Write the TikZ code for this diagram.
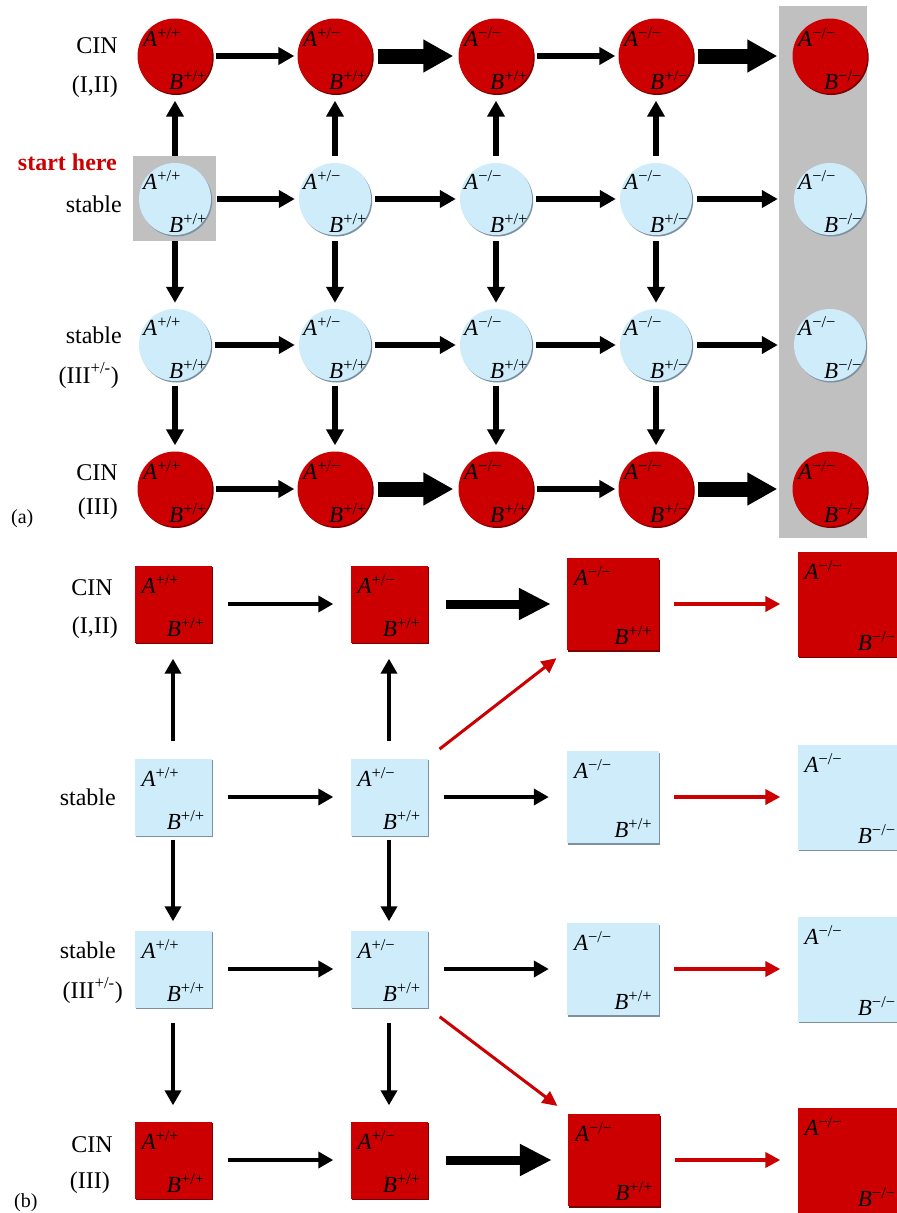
\documentclass[tikz,border=0pt]{standalone}
\usepackage{fontspec}
\setmainfont{Liberation Serif}
\usetikzlibrary{arrows.meta,calc,shadows}

\definecolor{cinred}{RGB}{204,0,0}
\definecolor{cinshade}{RGB}{120,0,0}
\definecolor{stableblue}{RGB}{206,236,250}
\definecolor{stableshade}{RGB}{125,145,160}
\definecolor{panelgray}{RGB}{192,192,192}

% genotype: italic gene name with an upright allele superscript
\newcommand\gty[2]{{\itshape #1}\raisebox{8pt}{\fontsize{16.5}{16.5}\selectfont #2}}

% circular state for panel (a): name, x, y, style, A alleles, B alleles
\newcommand\cstate[6]{%
  \node[#4] (#1) at (#2,#3) {};
  \node[geno] (#1-A) at ($(#1.center)+(-32,-10)$) {\gty{A}{#5}};
  \node[geno] (#1-B) at ($(#1.center)+(-6,33)$) {\gty{B}{#6}};
}
% square state for panel (b): name, x, y, size, style, A alleles, B alleles
\newcommand\sstate[7]{%
  \node[#5, minimum size=#4pt] (#1) at (#2,#3) {};
  \node[geno] (#1-A) at ($(#1.north west)+(7,28)$) {\gty{A}{#6}};
  \node[geno] (#1-B) at ($(#1.south east)+(-45,-6)$) {\gty{B}{#7}};
}

\begin{document}
\begin{tikzpicture}[x=1pt,y=-1pt,
  font=\fontsize{24}{28}\selectfont,
  redcirc/.style={circle, fill=cinred, minimum size=75pt, inner sep=0pt,
    general shadow={fill=cinshade, shadow xshift=1.2pt, shadow yshift=-1.5pt}},
  bluecirc/.style={circle, fill=stableblue, minimum size=72pt, inner sep=0pt,
    general shadow={fill=stableshade, shadow xshift=1.2pt, shadow yshift=-1.5pt}},
  redsq/.style={rectangle, fill=cinred, inner sep=0pt,
    general shadow={fill=cinshade, shadow xshift=1.2pt, shadow yshift=-1.5pt}},
  bluesq/.style={rectangle, fill=stableblue, inner sep=0pt,
    general shadow={fill=stableshade, shadow xshift=1.2pt, shadow yshift=-1.5pt}},
  geno/.style={inner sep=0pt, anchor=base west, font=\fontsize{23}{26}\selectfont},
  rowlabel/.style={inner sep=0pt, anchor=base east},
  panelbox/.style={rectangle, fill=panelgray, inner sep=0pt},
  thina/.style={line width=6pt, -{Triangle[length=16pt,width=17pt]}},
  thicka/.style={line width=15pt, -{Triangle[length=30pt,width=31pt]}},
  thinb/.style={line width=4pt, -{Triangle[length=15pt,width=16pt]}},
  thickb/.style={line width=9pt, -{Triangle[length=32pt,width=30pt]}},
  redb/.style={line width=4pt, cinred, -{Triangle[length=15pt,width=15pt]}},
  reddiag/.style={line width=3pt, cinred, -{Triangle[length=15pt,width=14pt]}},
]
\useasboundingbox (0,0) rectangle (897,1213);
\fill[white] (0,0) rectangle (897,1213);

% ---------------- panel (a) ----------------
\node[panelbox, minimum width=83pt, minimum height=85pt] (startbox) at (174.5,198.5) {};
\node[panelbox, minimum width=88pt, minimum height=532pt] (sinkcol) at (823,272) {};

\cstate{a11}{175}{56}{redcirc}{+/+}{+/+}
\cstate{a12}{335}{56}{redcirc}{+/−}{+/+}
\cstate{a13}{496}{56}{redcirc}{−/−}{+/+}
\cstate{a14}{656}{56}{redcirc}{−/−}{+/−}
\cstate{a15}{830}{56}{redcirc}{−/−}{−/−}

\cstate{a21}{175}{199}{bluecirc}{+/+}{+/+}
\cstate{a22}{335}{199}{bluecirc}{+/−}{+/+}
\cstate{a23}{496}{199}{bluecirc}{−/−}{+/+}
\cstate{a24}{656}{199}{bluecirc}{−/−}{+/−}
\cstate{a25}{830}{199}{bluecirc}{−/−}{−/−}

\cstate{a31}{175}{345}{bluecirc}{+/+}{+/+}
\cstate{a32}{335}{345}{bluecirc}{+/−}{+/+}
\cstate{a33}{496}{345}{bluecirc}{−/−}{+/+}
\cstate{a34}{656}{345}{bluecirc}{−/−}{+/−}
\cstate{a35}{830}{345}{bluecirc}{−/−}{−/−}

\cstate{a41}{175}{489}{redcirc}{+/+}{+/+}
\cstate{a42}{335}{489}{redcirc}{+/−}{+/+}
\cstate{a43}{496}{489}{redcirc}{−/−}{+/+}
\cstate{a44}{656}{489}{redcirc}{−/−}{+/−}
\cstate{a45}{830}{489}{redcirc}{−/−}{−/−}

\node[rowlabel] (la1) at (118,53) {CIN};
\node[rowlabel] (la1b) at (118,92) {(I,II)};
\node[rowlabel, text=cinred, font=\fontsize{24}{28}\selectfont\bfseries] (lstart) at (117,170) {start here};
\node[rowlabel] (la2) at (122,212) {stable};
\node[rowlabel] (la3) at (122,343) {stable};
\node[rowlabel] (la3b) at (119,383) {(III\textsuperscript{+/-})};
\node[rowlabel] (la4) at (118,480) {CIN};
\node[rowlabel] (la4b) at (118,514) {(III)};
\node[inner sep=0pt, anchor=base west, font=\fontsize{20}{24}\selectfont] (tagA) at (11,523) {(a)};

% horizontal transitions, panel (a)
\draw[thina,  shorten <=3pt, shorten >=3pt]  (a11) -- (a12);
\draw[thicka, shorten <=5pt, shorten >=5pt]  (a12) -- (a13);
\draw[thina,  shorten <=3pt, shorten >=3pt]  (a13) -- (a14);
\draw[thicka, shorten <=4pt, shorten >=15pt] (a14) -- (a15);

\draw[thina, shorten <=6pt, shorten >=4pt]  (a21) -- (a22);
\draw[thina, shorten <=4pt, shorten >=4pt]  (a22) -- (a23);
\draw[thina, shorten <=4pt, shorten >=4pt]  (a23) -- (a24);
\draw[thina, shorten <=5pt, shorten >=16pt] (a24) -- (a25);

\draw[thina, shorten <=4pt, shorten >=4pt]  (a31) -- (a32);
\draw[thina, shorten <=4pt, shorten >=4pt]  (a32) -- (a33);
\draw[thina, shorten <=4pt, shorten >=4pt]  (a33) -- (a34);
\draw[thina, shorten <=5pt, shorten >=16pt] (a34) -- (a35);

\draw[thina,  shorten <=3pt, shorten >=3pt]  (a41) -- (a42);
\draw[thicka, shorten <=5pt, shorten >=5pt]  (a42) -- (a43);
\draw[thina,  shorten <=3pt, shorten >=3pt]  (a43) -- (a44);
\draw[thicka, shorten <=4pt, shorten >=15pt] (a44) -- (a45);

% vertical transitions, panel (a)
\foreach \c in {1,2,3,4}{
  \draw[thina, shorten <=7pt, shorten >=7pt] (a2\c) -- (a1\c);
  \draw[thina, shorten <=6pt, shorten >=6pt] (a2\c) -- (a3\c);
  \draw[thina, shorten <=5pt, shorten >=6pt] (a3\c) -- (a4\c);
}

% ---------------- panel (b) ----------------
\sstate{b11}{173}{604}{77}{redsq}{+/+}{+/+}
\sstate{b12}{389}{604}{77}{redsq}{+/−}{+/+}
\sstate{b13}{613}{604}{92}{redsq}{−/−}{+/+}
\sstate{b14}{850}{604}{105}{redsq}{−/−}{−/−}

\sstate{b21}{173}{797}{77}{bluesq}{+/+}{+/+}
\sstate{b22}{389}{797}{77}{bluesq}{+/−}{+/+}
\sstate{b23}{613}{797}{92}{bluesq}{−/−}{+/+}
\sstate{b24}{850}{797}{105}{bluesq}{−/−}{−/−}

\sstate{b31}{173}{969}{77}{bluesq}{+/+}{+/+}
\sstate{b32}{389}{969}{77}{bluesq}{+/−}{+/+}
\sstate{b33}{613}{969}{92}{bluesq}{−/−}{+/+}
\sstate{b34}{850}{969}{105}{bluesq}{−/−}{−/−}

\sstate{b41}{173}{1160}{77}{redsq}{+/+}{+/+}
\sstate{b42}{389}{1160}{77}{redsq}{+/−}{+/+}
\sstate{b43}{614}{1160}{92}{redsq}{−/−}{+/+}
\sstate{b44}{850}{1160}{105}{redsq}{−/−}{−/−}

\node[rowlabel] (lb1) at (113,595) {CIN};
\node[rowlabel] (lb1b) at (118,633) {(I,II)};
\node[rowlabel] (lb2) at (116,805) {stable};
\node[rowlabel] (lb3) at (116,958) {stable};
\node[rowlabel] (lb3b) at (123,998) {(III\textsuperscript{+/-})};
\node[rowlabel] (lb4) at (113,1152) {CIN};
\node[rowlabel] (lb4b) at (110,1188) {(III)};
\node[inner sep=0pt, anchor=base west, font=\fontsize{20}{24}\selectfont] (tagB) at (14,1207) {(b)};

% horizontal transitions, panel (b)
\foreach \r in {1,2,3,4}{
  \draw[thinb, shorten <=16pt, shorten >=17pt] (b\r1) -- (b\r2);
  \draw[redb,  shorten <=15pt, shorten >=17pt] (b\r3) -- (b\r4);
}
\draw[thickb, shorten <=18pt, shorten >=16pt] (b12) -- (b13);
\draw[thinb,  shorten <=16pt, shorten >=18pt] (b22) -- (b23);
\draw[thinb,  shorten <=16pt, shorten >=18pt] (b32) -- (b33);
\draw[thickb, shorten <=18pt, shorten >=16pt] (b42) -- (b43);

% vertical transitions, panel (b)
\foreach \c in {1,2}{
  \draw[thinb, shorten <=17pt, shorten >=16pt] (b2\c) -- (b1\c);
  \draw[thinb, shorten <=4pt,  shorten >=9pt]  (b2\c) -- (b3\c);
  \draw[thinb, shorten <=15pt, shorten >=16pt] (b3\c) -- (b4\c);
}

% diagonal transitions, panel (b)
\draw[reddiag, shorten <=15pt, shorten >=13pt] (b22.north east) -- (b13.south west);
\draw[reddiag, shorten <=15pt, shorten >=13pt] (b32.south east) -- (b43.north west);
\end{tikzpicture}
\end{document}
